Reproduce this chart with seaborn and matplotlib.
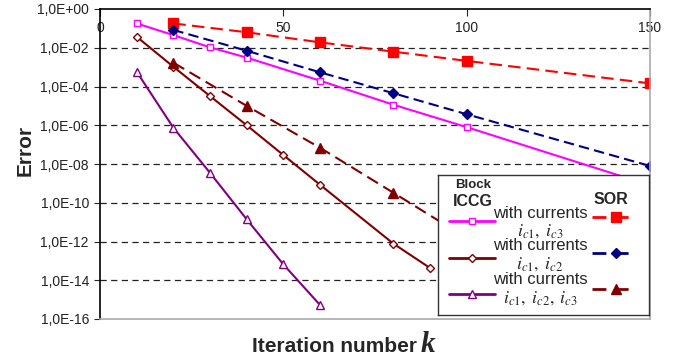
#
# plot.py
#   - Convergence of Block ICCG vs SOR (error vs iteration number).
#

import numpy as np
import pandas as pd
import seaborn as sns
import matplotlib.pyplot as plt

# ICCG with currents ic1, ic3
iccg13_k = [10, 20, 30, 40, 60, 80, 100, 150]
iccg13_err = [1.8e-1, 4.5e-2, 1.05e-2, 3.1e-3, 2.0e-4, 1.15e-5, 8.0e-7, 8.0e-10]
# ICCG with currents ic1, ic2
iccg12_k = [10, 20, 30, 40, 50, 60, 80, 90]
iccg12_err = [3.7e-2, 1.05e-3, 3.2e-5, 1.0e-6, 2.9e-8, 8.5e-10, 7.8e-13, 4.3e-14]
# ICCG with currents ic1, ic2, ic3
iccg123_k = [10, 20, 30, 40, 50, 60]
iccg123_err = [5.8e-4, 7.5e-7, 3.5e-9, 1.4e-11, 6.6e-14, 5.3e-16]
# SOR with currents ic1, ic3
sor13_k = [20, 40, 60, 80, 100, 150]
sor13_err = [1.8e-1, 6.3e-2, 1.9e-2, 6.3e-3, 2.1e-3, 1.45e-4]
# SOR with currents ic1, ic2
sor12_k = [20, 40, 60, 80, 100, 150]
sor12_err = [8.3e-2, 7.0e-3, 5.4e-4, 4.5e-5, 3.7e-6, 7.9e-9]
# SOR with currents ic1, ic2, ic3
sor123_k = [20, 40, 60, 80, 100]
sor123_err = [1.7e-3, 1.0e-5, 6.9e-8, 3.3e-10, 1.5e-12]

x_ticks = [0, 50, 100, 150]
y_ticks = [1e0, 1e-2, 1e-4, 1e-6, 1e-8, 1e-10, 1e-12, 1e-14, 1e-16]
y_ticklabels = ["1,0E+00", "1,0E-02", "1,0E-04", "1,0E-06", "1,0E-08",
                "1,0E-10", "1,0E-12", "1,0E-14", "1,0E-16"]
legend_math = [r"$\mathit{i_{c1}},\;\mathit{i_{c3}}$",
               r"$\mathit{i_{c1}},\;\mathit{i_{c2}}$",
               r"$\mathit{i_{c1}},\;\mathit{i_{c2}},\;\mathit{i_{c3}}$"]

# styles: (color, linestyle, marker, markersize, filled)
styles = {
    "iccg13": ("#FF00FF", "-", "s", 5, False),
    "iccg12": ("#800000", "-", "D", 4.5, False),
    "iccg123": ("#800080", "-", "^", 5.5, False),
    "sor13": ("#FF0000", (0, (6, 3)), "s", 6.5, True),
    "sor12": ("#000080", (0, (5, 2.5)), "D", 5, True),
    "sor123": ("#800000", (0, (6, 3)), "^", 7, True),
}
series = {
    "iccg13": (iccg13_k, iccg13_err),
    "iccg12": (iccg12_k, iccg12_err),
    "iccg123": (iccg123_k, iccg123_err),
    "sor13": (sor13_k, sor13_err),
    "sor12": (sor12_k, sor12_err),
    "sor123": (sor123_k, sor123_err),
}


def line_kw(name):
    color, ls, marker, ms, filled = styles[name]
    return dict(color=color, linestyle=ls, marker=marker, markersize=ms,
                markerfacecolor=color if filled else "white",
                markeredgecolor=color, markeredgewidth=1.0, linewidth=1.5)


def main():
    sns.set_style("white")
    plt.rcParams["font.family"] = ["Liberation Sans", "DejaVu Sans"]
    plt.rcParams["mathtext.fontset"] = "stix"

    W, H = 674, 359
    fig = plt.figure(figsize=(W / 100, H / 100), dpi=100)
    ax = fig.add_axes([100 / W, (H - 319) / H, 550 / W, 310 / H])

    for name, (k, err) in series.items():
        df = pd.DataFrame({"k": k, "err": err})
        sns.lineplot(data=df, x="k", y="err", ax=ax, errorbar=None,
                     legend=False, **line_kw(name))

    ax.set_yscale("log")
    ax.set_xlim(0, 150)
    ax.set_ylim(1e-16, 1e0)
    ax.set_yticks(y_ticks)
    ax.set_yticklabels(y_ticklabels, fontsize=10, color="#222222")
    ax.minorticks_off()
    ax.set_xticks(x_ticks)
    ax.set_xticklabels([str(t) for t in x_ticks], fontsize=10, color="#222222")
    ax.tick_params(axis="x", top=True, bottom=False, labeltop=True,
                   labelbottom=False, direction="in", length=5, pad=-19)
    ax.tick_params(axis="y", left=True, direction="out", length=4, pad=4)
    ax.set_xlabel("")
    ax.set_ylabel("")

    for y in y_ticks[1:-1]:
        ax.axhline(y, color="#222222", lw=0.9, linestyle=(0, (5, 3.5)), zorder=0)

    for s in ["left", "top"]:
        ax.spines[s].set_color("black")
        ax.spines[s].set_linewidth(1.2)
    for s in ["right", "bottom"]:
        ax.spines[s].set_color("#aaaaaa")
        ax.spines[s].set_linewidth(1.2)

    fig.text(25 / W, 1 - 150 / H, "Error", rotation=90, fontsize=15,
             fontweight="bold", ha="center", va="center")
    fig.text(417 / W, 1 - 347 / H, "Iteration number", fontsize=15,
             fontweight="bold", ha="right", va="center")
    fig.text(421 / W, 1 - 345 / H, "k", fontsize=21, fontweight="bold",
             fontstyle="italic", family="Liberation Serif",
             ha="left", va="center")

    # custom legend box
    lg = fig.add_axes([438 / W, (H - 315) / H, 211 / W, 140 / H])
    lg.set_xlim(0, 211)
    lg.set_ylim(140, 0)
    lg.set_xticks([])
    lg.set_yticks([])
    lg.set_facecolor("white")
    for s in lg.spines.values():
        s.set_color("#333333")
        s.set_linewidth(1.0)

    lg.text(35, 10, "Block", fontsize=9.5, fontweight="bold",
            ha="center", va="center")
    lg.text(35, 27, "ICCG", fontsize=11.5, fontweight="bold",
            ha="center", va="center")
    lg.text(173, 25, "SOR", fontsize=11.5, fontweight="bold",
            ha="center", va="center")

    rows_iccg = [46, 83, 119]
    rows_sor = [42, 78, 114]
    rows_txt = [38, 71, 105]
    for i, (ic, so) in enumerate([("iccg13", "sor13"), ("iccg12", "sor12"),
                                  ("iccg123", "sor123")]):
        kw = line_kw(ic)
        kw["linewidth"] = 2
        lg.plot([11, 34, 57], [rows_iccg[i]] * 3, markevery=[1], **kw)
        kw = line_kw(so)
        kw["linewidth"] = 2
        kw["linestyle"] = (0, (5, 3))
        lg.plot([154, 178, 196], [rows_sor[i]] * 3, markevery=[1], **kw)
        lg.text(102, rows_txt[i], "with currents", fontsize=12,
                ha="center", va="center")
        lg.text(102, rows_txt[i] + 18, legend_math[i], fontsize=13,
                ha="center", va="center")

    fig.savefig("out.png", dpi=100)


if __name__ == '__main__':
    main()
